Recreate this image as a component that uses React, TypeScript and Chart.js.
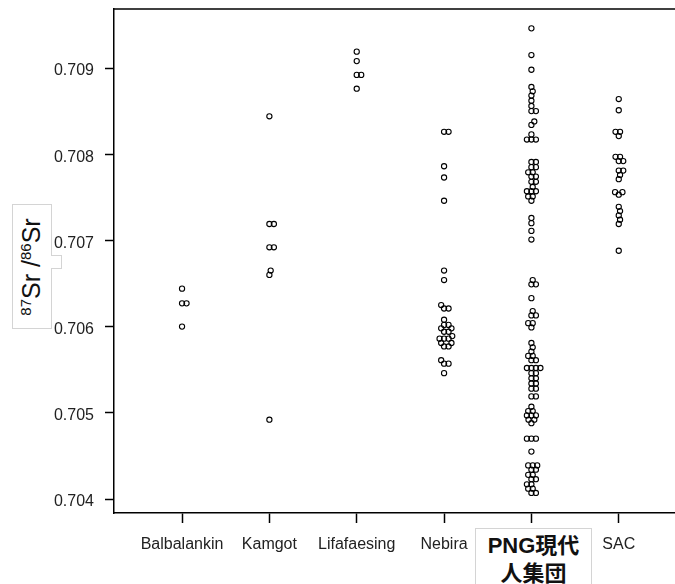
import { useEffect, useRef } from "react"
import { Chart, registerables } from "chart.js"

Chart.register(...registerables)

// Categories on the x axis (the 5th one is drawn as a boxed label below)
const categories = ["Balbalankin", "Kamgot", "Lifafaesing", "Nebira", "PNG現代人集団", "SAC"]

// 87Sr/86Sr values
const balbalankin = [0.70644, 0.70627, 0.70627, 0.706]
const kamgot = [0.70844, 0.70719, 0.70719, 0.70692, 0.70692, 0.70665, 0.7066, 0.70492]
const lifafaesing = [0.70919, 0.70908, 0.70892, 0.70892, 0.70876]
const nebira = [
  0.70826, 0.70826, 0.70786, 0.70773, 0.70746, 0.70665, 0.70654, 0.70625, 0.70621, 0.70621,
  0.70608, 0.70602, 0.70602, 0.70598, 0.70598, 0.70594, 0.70594, 0.70589, 0.70586, 0.70586,
  0.70586, 0.70581, 0.70581, 0.70577, 0.70577, 0.70561, 0.70557, 0.70557, 0.70546,
]
const pngModern = [
  0.70946, 0.70915, 0.70898, 0.70878, 0.70873, 0.70868, 0.70862, 0.70856, 0.7085, 0.7085,
  0.70838, 0.70834, 0.70823, 0.70817, 0.70817, 0.70817,
  0.70791, 0.70791, 0.70785, 0.70785, 0.70779, 0.70779, 0.70774, 0.70774, 0.70768, 0.70768,
  0.70762, 0.70757, 0.70757, 0.70757, 0.70751, 0.70751, 0.70746,
  0.70726, 0.7072, 0.70711, 0.70701,
  0.70654, 0.70649, 0.70649, 0.70633, 0.70618, 0.70613, 0.70613, 0.70604, 0.70604, 0.70599,
  0.70581, 0.70576, 0.70571, 0.70566, 0.70566, 0.70561, 0.70561,
  0.70552, 0.70552, 0.70552, 0.70552, 0.70546, 0.70546, 0.7054, 0.7054, 0.70534, 0.70534,
  0.70528, 0.70528, 0.70519, 0.70519,
  0.70507, 0.70502, 0.70502, 0.70497, 0.70497, 0.70497, 0.70492, 0.70492, 0.70488,
  0.7047, 0.7047, 0.7047, 0.70455,
  0.70439, 0.70439, 0.70439, 0.70434, 0.70434, 0.70428, 0.70428, 0.70423, 0.70423,
  0.70417, 0.70417, 0.70412, 0.70412, 0.70407, 0.70407,
]
const sac = [
  0.70864, 0.70851, 0.70826, 0.70826, 0.70821, 0.70797, 0.70797, 0.70792, 0.70792,
  0.70781, 0.70781, 0.70776, 0.70771, 0.70756, 0.70756, 0.70753,
  0.70739, 0.70734, 0.70729, 0.70724, 0.70719, 0.70688,
]
const seriesValues = [balbalankin, kamgot, lifafaesing, nebira, pngModern, sac]

const yTickValues = [0.704, 0.705, 0.706, 0.707, 0.708, 0.709]

// plot geometry
const W = 675
const H = 584
const PLOT_LEFT = 114
const PLOT_TOP = 9
const PLOT_BOTTOM = 513
const X_MIN = 0.221
const X_MAX = 6.644
const Y_MIN = 0.7038376
const Y_MAX = 0.7096845
const DOT_GAP = 4.5
const FONT = "'Liberation Sans', Arial, sans-serif"

// beeswarm-style horizontal offsets (in px), lowest value placed first
function swarmOffsets(values: number[], pxPerUnit: number, gap: number) {
  const order = values.map((_, i) => i).sort((a, b) => values[a] - values[b])
  const placed: { x: number; y: number }[] = []
  const out: number[] = new Array(values.length).fill(0)
  for (const i of order) {
    const y = values[i] * pxPerUnit
    const near = placed.filter((p) => Math.abs(p.y - y) < gap)
    const cands = [0]
    near.forEach((p) => {
      const dx = Math.sqrt(gap * gap - (p.y - y) ** 2)
      cands.push(p.x + dx, p.x - dx)
    })
    const ok = cands.filter((c) => near.every((p) => Math.hypot(p.x - c, p.y - y) >= gap - 1e-6))
    ok.sort((a, b) => Math.abs(a) - Math.abs(b))
    const x = ok.length ? ok[0] : 0
    placed.push({ x, y })
    out[i] = x
  }
  return out
}

const topBorder = {
  id: "topBorder",
  afterDraw(chart: Chart) {
    const { ctx, chartArea } = chart
    ctx.save()
    ctx.strokeStyle = "#000"
    ctx.lineWidth = 1.5
    ctx.beginPath()
    ctx.moveTo(chartArea.left, chartArea.top)
    ctx.lineTo(chartArea.right, chartArea.top)
    ctx.stroke()
    ctx.restore()
  },
}

function noPadding(s: any) {
  s.paddingLeft = 0
  s.paddingRight = 0
  s.paddingTop = 0
  s.paddingBottom = 0
}

export default function App() {
  const chartRef = useRef<HTMLCanvasElement>(null)
  const chartInstance = useRef<Chart | null>(null)

  useEffect(() => {
    if (!chartRef.current) return

    const pxPerY = (PLOT_BOTTOM - PLOT_TOP) / (Y_MAX - Y_MIN)
    const pxPerX = (W - PLOT_LEFT) / (X_MAX - X_MIN)

    const points: { x: number; y: number }[] = []
    seriesValues.forEach((vals, ci) => {
      const offs = swarmOffsets(vals, pxPerY, DOT_GAP)
      vals.forEach((v, i) => points.push({ x: ci + 1 + offs[i] / pxPerX, y: v }))
    })

    if (chartInstance.current) {
      chartInstance.current.destroy()
    }

    chartInstance.current = new Chart(chartRef.current, {
      type: "scatter",
      data: {
        datasets: [
          {
            data: points,
            pointRadius: 2.6,
            pointHoverRadius: 2.6,
            borderWidth: 1.1,
            borderColor: "#000",
            backgroundColor: "rgba(0,0,0,0)",
          },
        ],
      },
      options: {
        animation: false,
        responsive: true,
        maintainAspectRatio: false,
        layout: { autoPadding: false, padding: { top: PLOT_TOP, left: 0, right: 0, bottom: 0 } },
        plugins: {
          legend: { display: false },
          tooltip: { enabled: false },
        },
        scales: {
          x: {
            type: "linear",
            min: X_MIN,
            max: X_MAX,
            afterBuildTicks: (s: any) => {
              s.ticks = categories.map((_, i) => ({ value: i + 1 }))
            },
            afterFit: (s: any) => {
              s.height = H - PLOT_BOTTOM
              noPadding(s)
            },
            border: { display: true, color: "#000", width: 1.5 },
            grid: {
              drawOnChartArea: false,
              drawTicks: true,
              tickLength: 10,
              tickColor: "#000",
              tickWidth: 1.5,
            },
            ticks: {
              autoSkip: false,
              maxRotation: 0,
              padding: 12,
              color: "#222",
              font: { family: FONT, size: 16 },
              callback: (v: any) => {
                const i = Math.round(Number(v)) - 1
                return i === 4 ? "" : categories[i]
              },
            },
          },
          y: {
            min: Y_MIN,
            max: Y_MAX,
            afterBuildTicks: (s: any) => {
              s.ticks = yTickValues.map((value) => ({ value }))
            },
            afterFit: (s: any) => {
              s.width = PLOT_LEFT
              noPadding(s)
            },
            border: { display: true, color: "#000", width: 1.5 },
            grid: {
              drawOnChartArea: false,
              drawTicks: true,
              tickLength: 9,
              tickColor: "#000",
              tickWidth: 1.5,
            },
            ticks: {
              padding: 11,
              labelOffset: 3,
              color: "#222",
              font: { family: FONT, size: 16 },
              callback: (v: any) => Number(v).toFixed(3),
            },
          },
        },
      },
      plugins: [topBorder],
    })

    return () => {
      if (chartInstance.current) {
        chartInstance.current.destroy()
        chartInstance.current = null
      }
    }
  }, [])

  return (
    <div style={{ position: "absolute", left: 0, top: 0, width: W, height: H, overflow: "hidden", background: "#fff" }}>
      <canvas ref={chartRef} />
      {/* y-axis title box */}
      <div
        style={{
          position: "absolute",
          left: 12,
          top: 204,
          width: 40,
          height: 125,
          border: "1px solid #d4d4d4",
          background: "#fff",
          boxSizing: "border-box",
        }}
      />
      <div
        style={{
          position: "absolute",
          left: 51,
          top: 255,
          width: 11,
          height: 14,
          borderTop: "1px solid #d4d4d4",
          borderRight: "1px solid #d4d4d4",
          borderBottom: "1px solid #d4d4d4",
          background: "#fff",
          boxSizing: "border-box",
        }}
      />
      <div
        style={{
          position: "absolute",
          left: 31,
          top: 267,
          transform: "translate(-50%, -50%) rotate(-90deg)",
          whiteSpace: "nowrap",
          fontFamily: FONT,
          fontSize: 25,
          color: "#111",
          lineHeight: 1,
        }}
      >
        <sup style={{ fontSize: 15 }}>87</sup>Sr /<sup style={{ fontSize: 15 }}>86</sup>Sr
      </div>
      {/* boxed category label */}
      <div
        style={{
          position: "absolute",
          left: 475,
          top: 528,
          width: 117,
          height: 70,
          border: "1px solid #d4d4d4",
          background: "#fff",
          boxSizing: "border-box",
          paddingTop: 3,
          textAlign: "center",
          fontFamily: "'Liberation Sans', 'Noto Sans CJK JP', sans-serif",
          fontWeight: "bold",
          fontSize: 22,
          lineHeight: "28px",
          color: "#111",
        }}
      >
        PNG現代
        <br />
        人集団
      </div>
    </div>
  )
}
